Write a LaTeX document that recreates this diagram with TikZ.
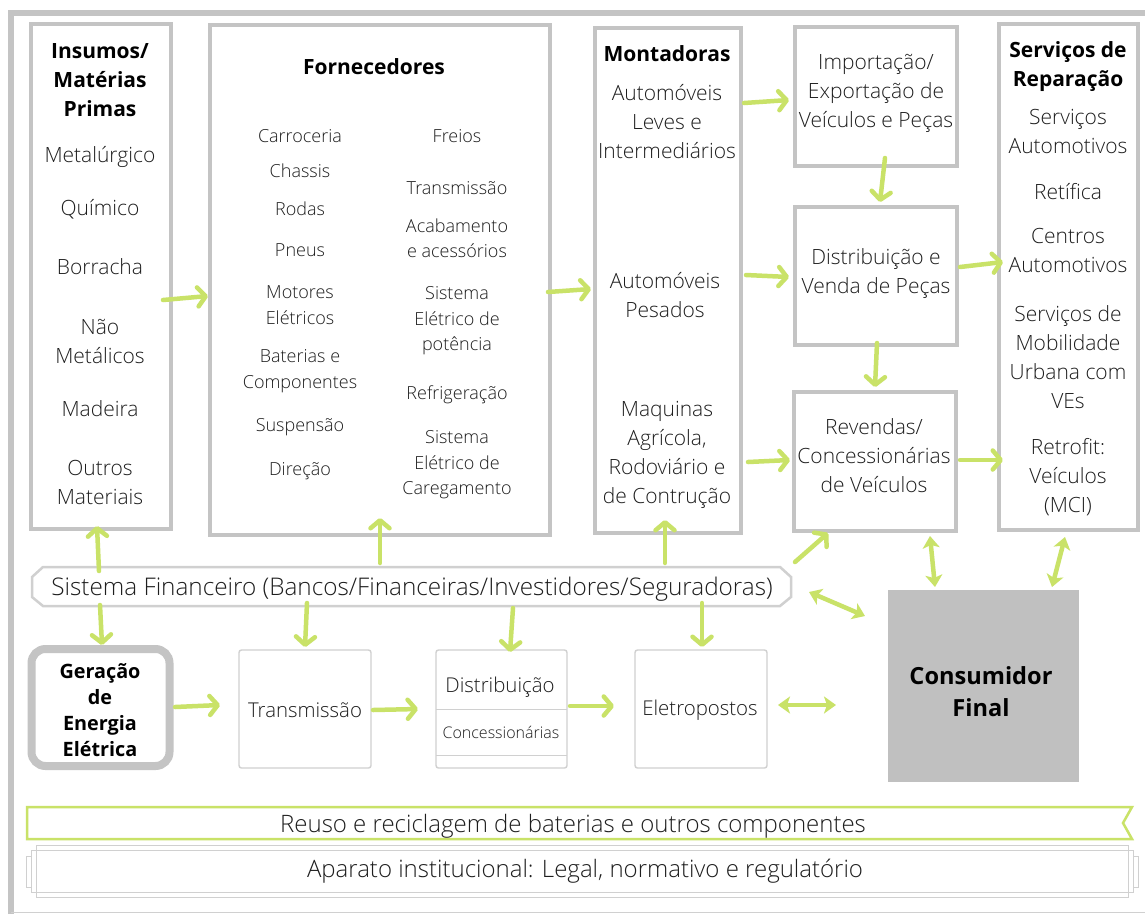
\documentclass[tikz,border=0pt]{standalone}
\usepackage{fontspec}
\setmainfont{Open Sans Light}[BoldFont={Open Sans Bold}]
\usetikzlibrary{arrows.meta,calc}

\definecolor{arrowgreen}{RGB}{201,226,104}
\definecolor{boxgray}{RGB}{196,196,196}
\definecolor{linegray}{RGB}{208,208,208}
\definecolor{ink}{RGB}{30,30,30}
\definecolor{consfill}{RGB}{192,192,192}

\begin{document}
\begin{tikzpicture}[x=1pt,y=-1pt,
  bigbox/.style={draw=boxgray, line width=4pt, inner sep=0pt, outer sep=0pt},
  smallbox/.style={draw=linegray, line width=1.4pt, rounded corners=2.5pt, inner sep=0pt, outer sep=0pt},
  body/.style={font=\fontsize{21}{29}\selectfont, align=center, text=ink, inner sep=0pt},
  item/.style={font=\fontsize{18}{25.5}\selectfont, align=center, text=ink, inner sep=0pt},
  head/.style={font=\bfseries\fontsize{21}{29}\selectfont, align=center, text=black, inner sep=0pt},
  arr/.style={draw=arrowgreen, line width=4.5pt, line cap=round,
    -{Straight Barb[length=8pt,width=19pt,round]}},
  darr/.style={draw=arrowgreen, line width=4.5pt,
    {Stealth[length=12pt,width=17pt,inset=3pt]}-{Stealth[length=12pt,width=17pt,inset=3pt]}}
]
\useasboundingbox (0,0) rectangle (1145,914);
\fill[white] (0,0) rectangle (1145,914);

% outer frame
\draw[boxgray, line width=6pt] (11,914) -- (11,12.5) -- (1145,12.5);
\draw[linegray, line width=1pt] (11,912) -- (1145,912);

% upper chain of boxes
\node[bigbox, minimum width=140pt, minimum height=505pt] (ins)  at (101,276.5) {};
\node[bigbox, minimum width=340pt, minimum height=510pt] (forn) at (380,280) {};
\node[bigbox, minimum width=146pt, minimum height=505pt] (mont) at (668,280.5) {};
\node[bigbox, minimum width=162pt, minimum height=139pt] (imp)  at (876,96.5) {};
\node[bigbox, minimum width=162pt, minimum height=138pt] (vend) at (876,276) {};
\node[bigbox, minimum width=162pt, minimum height=139pt] (rev)  at (875,461.5) {};
\node[bigbox, minimum width=139pt, minimum height=506pt] (serv) at (1068.5,277) {};

% Insumos
\node[head] (insH) at (100,80) {Insumos/\\Matérias\\Primas};
\node[body] (ins1) at (100,157) {Metalúrgico};
\node[body] (ins2) at (100,209) {Químico};
\node[body] (ins3) at (100,267) {Borracha};
\node[body] (ins4) at (100,341) {Não\\Metálicos};
\node[body] (ins5) at (100,409) {Madeira};
\node[body] (ins6) at (100,482) {Outros\\Materiais};

% Fornecedores
\node[head] (fornH) at (374,67) {Fornecedores};
\node[item] (f1) at (300,136) {Carroceria};
\node[item] (f2) at (300,171) {Chassis};
\node[item] (f3) at (300,209) {Rodas};
\node[item] (f4) at (300,250) {Pneus};
\node[item] (f5) at (300,305) {Motores\\Elétricos};
\node[item] (f6) at (300,371) {Baterias e\\Componentes};
\node[item] (f7) at (300,427) {Suspensão};
\node[item] (f8) at (300,471) {Direção};
\node[item] (g1) at (457,136) {Freios};
\node[item] (g2) at (457,188) {Transmissão};
\node[item] (g3) at (457,238) {Acabamento\\e acessórios};
\node[item] (g4) at (457,321) {Sistema\\Elétrico de\\potência};
\node[item] (g5) at (457,395) {Refrigeração};
\node[item] (g6) at (457,465) {Sistema\\Elétrico de\\Caregamento};

% Montadoras
\node[head] (montH) at (667,54) {Montadoras};
\node[body] (m1) at (667,122) {Automóveis\\Leves e\\Intermediários};
\node[body] (m2) at (665,295) {Automóveis\\Pesados};
\node[body] (m3) at (667,454.5) {Maquinas\\Agrícola,\\Rodoviário e\\de Contrução};

% middle column
\node[body] (impT)  at (876,93) {Importação/\\Exportação de\\Veículos e Peças};
\node[body] (vendT) at (876,274) {Distribuição e\\Venda de Peças};
\node[body] (revT)  at (874,456) {Revendas/\\Concessionárias\\de Veículos};

% Serviços de Reparação
\node[head] (servH) at (1068,66.5) {Serviços de\\Reparação};
\node[body] (s1) at (1068,131.5) {Serviços\\Automotivos};
\node[body] (s2) at (1068,192) {Retífica};
\node[body] (s3) at (1068,250.5) {Centros\\Automotivos};
\node[body] (s4) at (1068,357.5) {Serviços de\\Mobilidade\\Urbana com\\VEs};
\node[body] (s5) at (1068,477) {Retrofit:\\Veículos\\(MCI)};

% financial system bar
\node[minimum width=759pt, minimum height=39pt, inner sep=0pt, outer sep=0pt] (fin) at (411.5,586.5) {};
\draw[linegray, line width=2.5pt, fill=white]
  ([xshift=11pt]fin.north west) -- ([xshift=-11pt]fin.north east)
  -- ([yshift=-10pt]fin.north east) -- ([yshift=9pt]fin.south east)
  -- ([xshift=-11pt]fin.south east) -- ([xshift=11pt]fin.south west)
  -- ([yshift=9pt]fin.south west) -- ([yshift=-10pt]fin.north west) -- cycle;
\node[body, font=\fontsize{24.3}{29}\selectfont] (finT) at (412,589)
  {Sistema Financeiro (Bancos/Financeiras/Investidores/Seguradoras)};

% energy chain
\node[draw=boxgray, line width=8pt, rounded corners=14pt, minimum width=138pt,
  minimum height=117pt, inner sep=0pt, outer sep=0pt] (ger) at (100.5,707.5) {};
\node[head, font=\bfseries\fontsize{19.8}{26}\selectfont] (gerT) at (100,710)
  {Geração\\de\\Energia\\Elétrica};
\node[smallbox, minimum width=132pt, minimum height=118pt] (trans) at (305,709) {};
\node[body, font=\fontsize{20.4}{26}\selectfont] (transT) at (305,710) {Transmissão};
\node[smallbox, minimum width=131pt, minimum height=118pt] (distr) at (501.5,709) {};
\draw[linegray, line width=1pt] (distr.west |- 0,709) -- (distr.east |- 0,709);
\draw[linegray, line width=1pt] (distr.west |- 0,755) -- (distr.east |- 0,755);
\node[body, font=\fontsize{20.4}{26}\selectfont] (distrT) at (500,687) {Distribuição};
\node[body, font=\fontsize{16}{20}\selectfont] (distrC) at (501,732) {Concessionárias};
\node[smallbox, minimum width=132pt, minimum height=118pt] (elet) at (701,709) {};
\node[body, font=\fontsize{20.4}{26}\selectfont] (eletT) at (700,710) {Eletropostos};

% final consumer
\node[fill=consfill, minimum width=191pt, minimum height=192pt, inner sep=0pt, outer sep=0pt] (cons) at (983.5,686) {};
\node[head, font=\bfseries\fontsize{23.6}{32}\selectfont] (consT) at (981,692) {Consumidor\\Final};

% bottom bands
\draw[arrowgreen, line width=2.5pt] (27,807) -- (1132,807) -- (1123,823) -- (1132,839) -- (27,839) -- cycle;
\node[body, font=\fontsize{24}{29}\selectfont] (reuso) at (573,826)
  {Reuso e reciclagem de baterias e outros componentes};
\begin{scope}[linegray, line width=1pt]
  \draw (36,845) rectangle (1128,897);
  \draw (31,850) rectangle (1133,892);
  \draw (26,856) rectangle (31,887);
  \draw (1133,856) rectangle (1138,887);
\end{scope}
\node[body, font=\fontsize{24}{29}\selectfont] (aparato) at (585,871)
  {Aparato institucional: Legal, normativo e regulatório};

% connectors
\draw[arr] ($(ins.east)+(-8,23.5)$) -- ($(forn.west)+(-2,16)$);
\draw[arr] ($(forn.east)+(-2,12)$) -- ($(mont.west)+(-4,8.5)$);
\draw[arr] ($(mont.north east)+(3,75)$) -- ($(imp.west)+(-6,3.5)$);
\draw[arr] ($(mont.east)+(5,-5.5)$) -- ($(vend.west)+(-6,1)$);
\draw[arr] ($(mont.south east)+(7,-71)$) -- ($(rev.west)+(-4,-1.5)$);
\draw[arr] ($(imp.south)+(9,-8)$) -- ($(vend.north)+(4,-5)$);
\draw[arr] ($(vend.south)+(1,-2)$) -- ($(rev.north)+(0,-5)$);
\draw[arr] ($(vend.east)+(3,-9)$) -- ($(serv.west)+(4,-15)$);
\draw[arr] ($(rev.east)+(4,-1.5)$) -- ($(serv.south west)+(4,-70)$);

\draw[arr] ($(fin.north west)+(67,4)$) -- ($(ins.south)+(-4,-3)$);
\draw[arr] ($(fin.north)+(-31.5,-4)$) -- ($(forn.south)+(0,-17)$);
\draw[arr] ($(fin.north)+(253.5,-4)$) -- ($(mont.south)+(-3,-13)$);
\draw[arr] ($(fin.north east)+(4,-5)$) -- ($(rev.south west)+(34,2)$);
\draw[darr] ($(fin.east)+(18,5.5)$) -- ($(cons.north west)+(-23,26)$);
\draw[darr] ($(rev.south)+(55,5)$) -- ($(cons.north)+(-48.5,-3)$);
\draw[darr] ($(serv.south)+(-3.5,7)$) -- ($(cons.north east)+(-27,-3)$);

\draw[arr] ($(fin.south west)+(68,-1)$) -- ($(ger.north)+(1.5,-4)$);
\draw[arr] ($(fin.south)+(-104.5,-3)$) -- ($(trans.north)+(0,-3)$);
\draw[arr] ($(fin.south)+(101.5,2)$) -- ($(distr.north)+(8.5,2)$);
\draw[arr] ($(fin.south east)+(-89,-3)$) -- ($(elet.north)+(1,-3)$);

\draw[arr] ($(ger.east)+(5.5,-0.5)$) -- ($(trans.west)+(-19,-4)$);
\draw[arr] ($(trans.east)+(2,1)$) -- ($(distr.west)+(-18,0)$);
\draw[arr] ($(distr.east)+(3,-3)$) -- ($(elet.west)+(-21,-3)$);
\draw[darr] ($(elet.east)+(11,-4)$) -- ($(cons.west)+(-52,19)$);
\end{tikzpicture}
\end{document}
